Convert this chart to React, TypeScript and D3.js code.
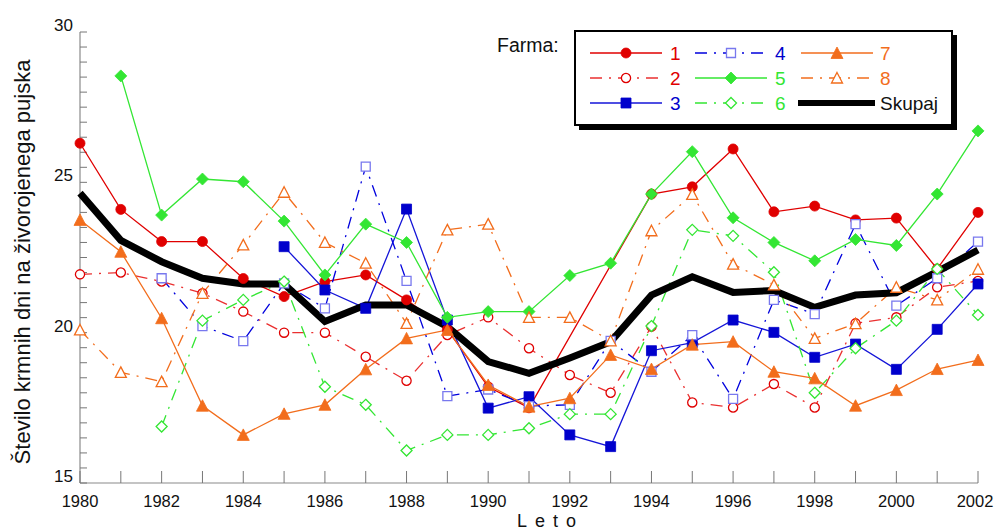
import React from 'react';
import * as d3 from 'd3';

const years = d3.range(1980, 2003);

const farm1 = [26.3, 24.1, 23.03, 23.03, 21.8, 21.2, 21.7, 21.92, 21.09, 20.1, 18.2, 17.5, null, null, 24.61, 24.85, 26.11, 24.02, 24.21, 23.75, 23.81, 22.12, 24.0];
const farm2 = [21.94, 22.0, 21.7, 21.31, 20.7, 20.0, 20.0, 19.2, 18.4, 19.92, 20.51, 19.48, 18.59, 18.0, 20.2, 17.68, 17.51, 18.29, 17.51, 20.31, 20.51, 21.51, 21.72];
const farm3 = [null, null, null, null, null, 22.86, 21.42, 20.81, 24.11, 20.42, 17.49, 17.87, 16.6, 16.21, 19.4, 19.67, 20.42, 20.01, 19.18, 19.62, 18.78, 20.11, 21.62];
const farm4 = [null, null, 21.81, 20.22, 19.72, 21.64, 20.81, 25.52, 21.72, 17.89, 18.11, 17.56, 17.6, 19.73, 18.7, 19.92, 17.8, 21.09, 20.62, 23.61, 20.9, 21.81, 23.03];
const farm5 = [null, 28.54, 23.91, 25.11, 25.02, 23.71, 21.92, 23.61, 23.0, 20.51, 20.7, 20.7, 21.9, 22.31, 24.61, 26.02, 23.82, 23.0, 22.39, 23.1, 22.9, 24.61, 26.71];
const farm6 = [null, null, 16.88, 20.4, 21.09, 21.7, 18.2, 17.6, 16.08, 16.6, 16.6, 16.82, 17.29, 17.29, 20.22, 23.42, 23.22, 22.01, 18.0, 19.48, 20.4, 22.12, 20.59];
const farm7 = [23.75, 22.69, 20.48, 17.57, 16.6, 17.3, 17.6, 18.78, 19.81, 20.09, 18.26, 17.54, 17.82, 19.26, 18.79, 19.6, 19.7, 18.7, 18.48, 17.57, 18.09, 18.79, 19.09];
const farm8 = [20.09, 18.68, 18.37, 21.31, 22.92, 24.67, 23.0, 22.31, 20.31, 23.42, 23.61, 20.51, 20.51, 19.73, 23.39, 24.6, 22.28, 21.59, 19.81, 20.3, 21.51, 21.09, 22.11];
const skupaj = [24.64, 23.07, 22.36, 21.81, 21.62, 21.62, 20.37, 20.92, 20.92, 20.2, 19.04, 18.65, 19.16, 19.7, 21.25, 21.86, 21.34, 21.4, 20.84, 21.25, 21.33, 22.03, 22.75];

const xTicks = d3.range(1980, 2003, 2);
const yTicks = [15, 20, 25, 30];

const RED = '#e00000';
const BLUE = '#0000cc';
const GREEN = '#33e633';
const ORANGE = '#f26d1c';
const DASHDOT = '12,7,2,7';

const series = [
  { name: '1', values: farm1, color: RED, line: RED, dash: null, shape: 'circle', filled: true, stroke: RED },
  { name: '2', values: farm2, color: RED, line: '#ea3030', dash: DASHDOT, shape: 'circle', filled: false, stroke: RED },
  { name: '3', values: farm3, color: BLUE, line: '#1515d8', dash: null, shape: 'square', filled: true, stroke: BLUE },
  { name: '4', values: farm4, color: BLUE, line: '#0000dd', dash: DASHDOT, shape: 'square', filled: false, stroke: '#7878ee' },
  { name: '5', values: farm5, color: GREEN, line: GREEN, dash: null, shape: 'diamond', filled: true, stroke: GREEN },
  { name: '6', values: farm6, color: GREEN, line: GREEN, dash: DASHDOT, shape: 'diamond', filled: false, stroke: GREEN },
  { name: '7', values: farm7, color: ORANGE, line: ORANGE, dash: null, shape: 'triangle', filled: true, stroke: ORANGE },
  { name: '8', values: farm8, color: ORANGE, line: ORANGE, dash: DASHDOT, shape: 'triangle', filled: false, stroke: ORANGE },
];

const W = 995, H = 531;
const x = d3.scaleLinear().domain([1980, 2002]).range([80, 978]);
const y = d3.scaleLinear().domain([15, 30]).range([483, 32]);

function markerPath(shape: string, filled: boolean) {
  if (shape === 'circle') {
    const r = filled ? 5 : 4.6;
    return `M${-r},0A${r},${r} 0 1,0 ${r},0A${r},${r} 0 1,0 ${-r},0Z`;
  }
  if (shape === 'square') {
    const s = filled ? 5 : 4.5;
    return `M${-s},${-s}H${s}V${s}H${-s}Z`;
  }
  if (shape === 'diamond') {
    const s = filled ? 6 : 5.5;
    return `M0,${-s}L${s},0L0,${s}L${-s},0Z`;
  }
  const h = filled ? 5.5 : 5;
  return `M0,${-h - 0.5}L${h + 0.5},${h}L${-h - 0.5},${h}Z`;
}

function Marker({ s, cx, cy }: any) {
  return (
    <path
      d={markerPath(s.shape, s.filled)}
      transform={`translate(${cx},${cy})`}
      fill={s.filled ? s.color : '#fff'}
      stroke={s.stroke}
      strokeWidth={s.filled ? 0.8 : 1.3}
    />
  );
}

export default function App() {
  const line = d3.line<[number, number]>().x(d => x(d[0])).y(d => y(d[1]));
  const pts = (vals: (number | null)[]) =>
    years.map((yr, i) => [yr, vals[i]] as [number, number | null]).filter(d => d[1] != null) as [number, number][];

  const minorY = d3.range(15, 30.01, 0.5);
  const legendRows = [53, 78, 103];
  const legendCols = [{ x0: 590, x1: 662, lx: 670 }, { x0: 695, x1: 767, lx: 775 }, { x0: 801, x1: 873, lx: 880 }];
  const legendItems = [0, 1, 2, 3, 4, 5, 6, 7].map(i => ({ s: series[i], col: Math.floor(i / 3), row: i % 3 }));

  const font = 'Liberation Sans, Arial, Helvetica, sans-serif';

  return (
    <div style={{ position: 'absolute', left: 0, top: 0 }}>
      <svg width={W} height={H} style={{ display: 'block', background: '#fff' }} fontFamily={font}>
        {/* axes */}
        <line x1={80} x2={80} y1={32} y2={483} stroke="#8a8a8a" strokeWidth={1.2} />
        <line x1={80} x2={978} y1={483} y2={483} stroke="#8a8a8a" strokeWidth={1.2} />
        {minorY.map(v => (
          <line key={'yt' + v} x1={80} x2={87} y1={y(v)} y2={y(v)} stroke="#777" strokeWidth={1} />
        ))}
        {years.map(yr => (
          <line key={'xt' + yr} x1={x(yr)} x2={x(yr)} y1={483} y2={471} stroke="#777" strokeWidth={1} />
        ))}
        {yTicks.map(v => (
          <text key={'yl' + v} x={73} y={y(v) - 1} textAnchor="end" fontSize={17} fill="#111">{v}</text>
        ))}
        {xTicks.map(v => (
          <text key={'xl' + v} x={v === 2002 ? 975 : x(v)} y={507} textAnchor="middle" fontSize={16.5} fill="#111">{v}</text>
        ))}
        <text x={517} y={527} fontSize={18} letterSpacing={8} fill="#111">Leto</text>
        <text transform="translate(30,262) rotate(-90)" textAnchor="middle" fontSize={22} fill="#111">
          Število krmnih dni na živorojenega pujska
        </text>

        {/* series lines */}
        {series.map(s => (
          <path key={'l' + s.name} d={line(pts(s.values)) || ''} fill="none" stroke={s.line} strokeWidth={1.3}
            strokeDasharray={s.dash || undefined} />
        ))}
        <path d={line(pts(skupaj)) || ''} fill="none" stroke="#000" strokeWidth={7} strokeLinejoin="miter" />

        {/* markers */}
        {series.map(s => pts(s.values).map(d => (
          <Marker key={s.name + '-' + d[0]} s={s} cx={x(d[0])} cy={y(d[1])} />
        )))}

        {/* legend */}
        <text x={497} y={52} fontSize={19.5} fill="#111">Farma:</text>
        <rect x={579} y={35} width={378} height={95} fill="#000" />
        <rect x={575} y={31} width={377} height={94} fill="#fff" stroke="#000" strokeWidth={2} />
        {legendItems.map(({ s, col, row }) => {
          const c = legendCols[col];
          const ly = legendRows[row];
          return (
            <g key={'lg' + s.name}>
              <line x1={c.x0} x2={c.x1} y1={ly} y2={ly} stroke={s.line} strokeWidth={1.3}
                strokeDasharray={s.dash || undefined} />
              <Marker s={s} cx={(c.x0 + c.x1) / 2} cy={ly} />
              <text x={c.lx} y={ly + 7} fontSize={19} fill={s.color}>{s.name}</text>
            </g>
          );
        })}
        <line x1={798} x2={875} y1={103} y2={103} stroke="#000" strokeWidth={6} />
        <text x={880} y={110} fontSize={19} fill="#111">Skupaj</text>
      </svg>
    </div>
  );
}
